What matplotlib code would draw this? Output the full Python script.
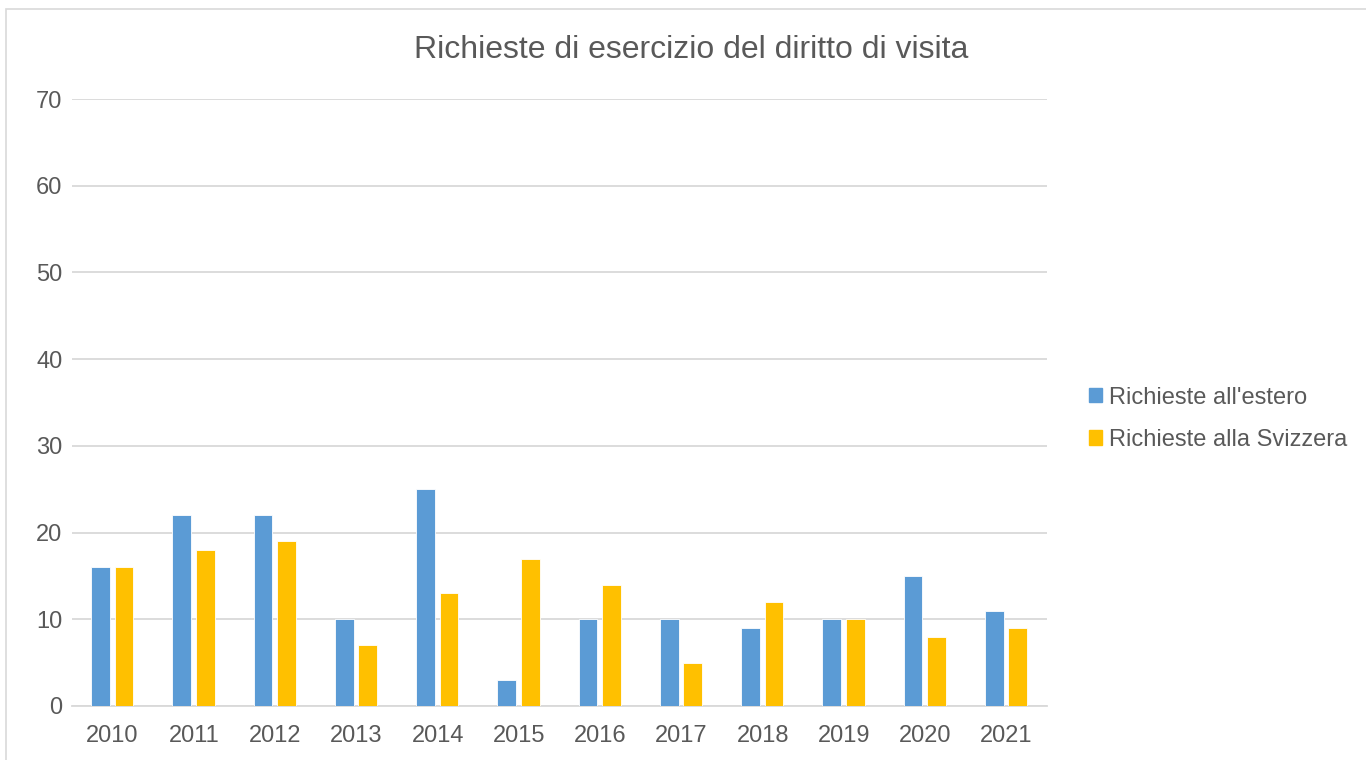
import matplotlib
matplotlib.use("Agg")
import matplotlib.pyplot as plt
from matplotlib.patches import Patch, Rectangle
import numpy as np

years = ['2010', '2011', '2012', '2013', '2014', '2015',
         '2016', '2017', '2018', '2019', '2020', '2021']
estero = [16, 22, 22, 10, 25, 3, 10, 10, 9, 10, 15, 11]
svizzera = [16, 18, 19, 7, 13, 17, 14, 5, 12, 10, 8, 9]

BLUE = '#5B9BD5'
GOLD = '#FFC000'
TEXT = '#595959'
GRID = '#D9D9D9'

plt.rcParams['font.family'] = ['Liberation Sans', 'DejaVu Sans']

fig = plt.figure(figsize=(13.66, 7.6), dpi=100)
ax = fig.add_axes([0.0527, 0.0711, 0.7138, 0.7986])

x = np.arange(len(years))
w = 0.23
ax.bar(x - 0.15, estero, w, color=BLUE, edgecolor='white', linewidth=0.6, zorder=3)
ax.bar(x + 0.14, svizzera, w, color=GOLD, edgecolor='white', linewidth=0.6, zorder=3)

ax.set_xlim(-0.5, len(years) - 0.5)
ax.set_ylim(0, 70)
ax.set_yticks(range(0, 71, 10))
ax.set_xticks(x)
ax.set_xticklabels(years)
ax.yaxis.grid(True, color=GRID, linewidth=1.3, zorder=0)
ax.set_axisbelow(True)
for s in ['top', 'right', 'left']:
    ax.spines[s].set_visible(False)
ax.spines['bottom'].set_color(GRID)
ax.spines['bottom'].set_linewidth(1.3)
ax.tick_params(length=0, labelsize=17, labelcolor=TEXT)
ax.tick_params(axis='y', pad=7)
ax.tick_params(axis='x', pad=14)

fig.text(0.506, 0.934, 'Richieste di esercizio del diritto di visita',
         ha='center', va='center', fontsize=23, color=TEXT)

handles = [Patch(color=BLUE, label="Richieste all'estero"),
           Patch(color=GOLD, label='Richieste alla Svizzera')]
fig.legend(handles=handles, loc='center left', bbox_to_anchor=(0.797, 0.449),
           frameon=False, fontsize=17, labelcolor=TEXT, handlelength=0.55,
           handleheight=0.55, handletextpad=0.3, labelspacing=0.85,
           borderpad=0, borderaxespad=0)

# outer chart border
fig.patches.append(Rectangle((6 / 1366, -0.01), 1.0, 1 - 9 / 760 + 0.01,
                             transform=fig.transFigure, fill=False,
                             edgecolor=GRID, linewidth=1.2))

fig.savefig('out.png', dpi=100)
